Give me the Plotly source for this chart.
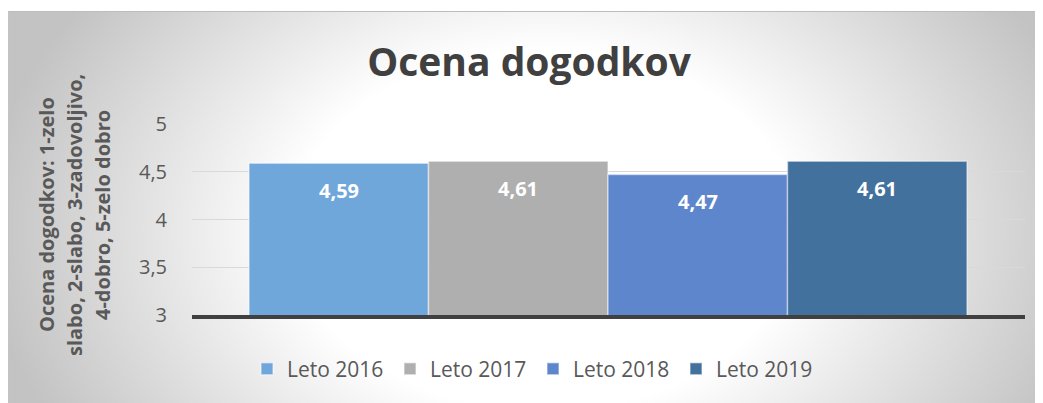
import zlib, struct, base64
import numpy as np
import plotly.graph_objects as go

# ---- data ----
series = ["Leto 2016", "Leto 2017", "Leto 2018", "Leto 2019"]
values = [4.59, 4.61, 4.47, 4.61]
colors = ["#70A7DB", "#AFAFAF", "#5E86CC", "#41719C"]
y_ticks = [3, 3.5, 4, 4.5, 5]
title_text = "Ocena dogodkov"
y_title_lines = ["Ocena dogodkov: 1-zelo", "slabo, 2-slabo, 3-zadovoljivo,", "4-dobro, 5-zelo dobro"]

W, H = 1043, 403
OFF = 8  # page body margin offset
ML, MR, MT, MB = 192 - OFF, W - (1025 - OFF), 124 - OFF, H - (315 - OFF)
PW, PH = W - ML - MR, H - MT - MB


def fx(px):
    """page pixel x -> paper fraction"""
    return (px - OFF - ML) / PW


def fy(py):
    """page pixel y -> paper fraction"""
    return (H - MB - (py - OFF)) / PH


# ---- background radial gradient as PNG ----
def png_gray(arr):
    h, w = arr.shape
    raw = b"".join(b"\x00" + arr[i].tobytes() for i in range(h))

    def chunk(tag, data):
        c = struct.pack(">I", len(data)) + tag + data
        return c + struct.pack(">I", zlib.crc32(tag + data) & 0xffffffff)

    png = (b"\x89PNG\r\n\x1a\n"
           + chunk(b"IHDR", struct.pack(">IIBBBBB", w, h, 8, 0, 0, 0, 0))
           + chunk(b"IDAT", zlib.compress(raw, 9))
           + chunk(b"IEND", b""))
    return "data:image/png;base64," + base64.b64encode(png).decode()


bx0, by0, bx1, by1 = 8, 11, 1043 + OFF, 403 + OFF
xs = np.arange(bx0, bx1) + 0.5
ys = np.arange(by0, by1) + 0.5
X, Y = np.meshgrid(xs, ys)
d = np.sqrt(((X - 545) / 560) ** 2 + ((Y - 230) / 400) ** 2)
f = np.clip((d - 0.45) / 0.55, 0, 1)
img = (255 - 60 * f).round().astype(np.uint8)
img[0, :] = 188
img[:, 0] = 196
bg_src = png_gray(img)

fig = go.Figure()
for i, (name, v, c) in enumerate(zip(series, values, colors)):
    fig.add_trace(go.Bar(
        x=[i], y=[v], name=name, width=1,
        marker=dict(color=c, line=dict(color="rgba(255,255,255,0.45)", width=1.5)),
        hoverinfo="skip",
    ))
    fig.add_annotation(
        x=i, y=v, xref="x", yref="y",
        text=f"{v:.2f}".replace(".", ","),
        showarrow=False, yanchor="middle", yshift=-27,
        font=dict(family="Open Sans", size=20, color="white", weight="bold"),
    )

# y-axis title lines
for line, px in zip(y_title_lines, [46, 74, 102]):
    fig.add_annotation(
        x=fx(px), y=fy(215), xref="paper", yref="paper",
        text=line, textangle=-90, showarrow=False,
        xanchor="center", yanchor="middle",
        font=dict(family="Open Sans", size=20, color="#595959", weight="bold"),
    )

unit = (967 - 249) / 4.0
x_left = -0.5 - (249 - 192) / unit
x_right = 3.5 + (1025 - 967) / unit

fig.update_layout(
    width=W, height=H,
    margin=dict(l=ML, r=MR, t=MT, b=MB, autoexpand=False),
    paper_bgcolor="white",
    plot_bgcolor="rgba(0,0,0,0)",
    separators=", ",
    barmode="overlay",
    showlegend=True,
    title=dict(
        text=title_text, x=(529 - OFF) / W, xanchor="center", xref="container",
        y=1 - (62 - OFF) / H, yanchor="middle", yref="container",
        font=dict(family="Open Sans", size=39, color="#404040", weight="bold"),
    ),
    legend=dict(
        orientation="h", x=fx(533), xanchor="center", y=fy(369), yanchor="middle",
        font=dict(family="Open Sans", size=21, color="#595959"),
        bgcolor="rgba(0,0,0,0)", itemwidth=30, entrywidth=98, entrywidthmode="pixels",
        traceorder="normal", itemclick=False, itemdoubleclick=False,
    ),
    xaxis=dict(
        range=[x_left, x_right], showticklabels=False, showgrid=False, zeroline=False,
        showline=True, linecolor="#404040", linewidth=4, ticks="", fixedrange=True,
    ),
    yaxis=dict(
        range=[3, 5], tickvals=y_ticks, showgrid=True, gridcolor="#D9D9D9", gridwidth=1,
        zeroline=False, showline=False, ticks="", ticklabelstandoff=24,
        tickfont=dict(family="Open Sans", size=20, color="#595959"), fixedrange=True,
    ),
    images=[dict(
        source=bg_src, xref="paper", yref="paper",
        x=fx(bx0), y=fy(by0), sizex=(bx1 - bx0) / PW, sizey=(by1 - by0) / PH,
        xanchor="left", yanchor="top", sizing="stretch", layer="below",
    )],
)

fig.write_html("out.html", config={"displayModeBar": False})
